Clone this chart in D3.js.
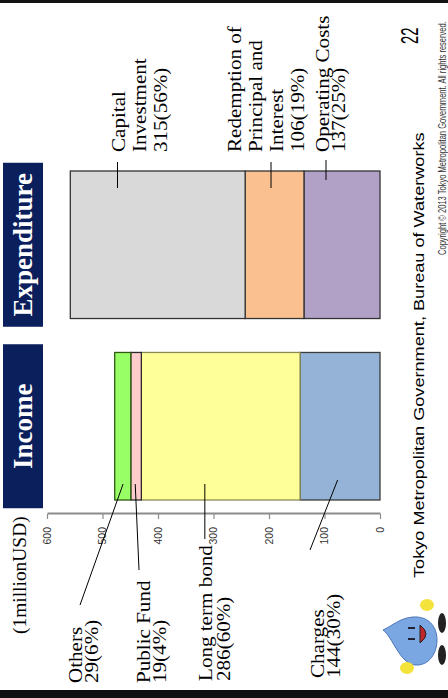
<!DOCTYPE html>
<html>
<head>
<meta charset="utf-8">
<script src="https://cdn.jsdelivr.net/npm/d3@7"></script>
<style>
  html, body { margin: 0; padding: 0; background: #fff; }
  svg { display: block; }
</style>
</head>
<body>
<svg id="chart" width="448" height="698"></svg>
<script>
// ---- data (million USD) ----
const groups = ["Income", "Expenditure"];

const incomeCats = ["Charges", "Long term bond", "Public Fund", "Others"];
const incomeVals = [144, 286, 19, 29];
const incomePct  = [30, 60, 4, 6];

const expCats = ["Operating Costs", "Redemption of Principal and Interest", "Capital Investment"];
const expVals = [137, 106, 315];
const expPct  = [25, 19, 56];

const tickVals = [0, 100, 200, 300, 400, 500, 600];
const unitLabel = "(1millionUSD)";
const footerText = "Tokyo Metropolitan Government, Bureau of Waterworks";
const pageNum = "22";
const copyrightText = "Copyright \u00A9 2013 Tokyo Metropolitan Government. All rights reserved.";

// ---- page setup: the slide is laid out landscape, then turned a quarter turn ----
const W = 698, H = 448;
const svg = d3.select("#chart");
const slide = svg.append("g").attr("transform", `translate(0,${W}) rotate(-90)`);

slide.append("rect").attr("width", W).attr("height", H).attr("fill", "#fff");
slide.append("rect").attr("x", 0).attr("y", 0).attr("width", 8).attr("height", H).attr("fill", "#111");
slide.append("rect").attr("x", W - 3).attr("y", 0).attr("width", 3).attr("height", H).attr("fill", "#111");

const serif = "'Liberation Serif','Times New Roman',serif";
const sans = "'Liberation Sans',Arial,sans-serif";

function txt(parent, x, y, s, o = {}) {
  return parent.append("text")
    .attr("transform", `translate(${x},${y}) scale(${o.sx || 1},${o.sy || 1})`)
    .attr("font-family", o.font || serif)
    .attr("font-size", o.size || 20)
    .attr("font-weight", o.weight || "normal")
    .attr("fill", o.fill || "#000")
    .attr("text-anchor", o.anchor || "start")
    .text(s);
}

// ---- scales ----
const y = d3.scaleLinear().domain([0, 600]).range([380, 47]);
const x = d3.scaleBand().domain(groups).range([198, 527]).paddingInner(0.187).paddingOuter(0);

// ---- value axis ----
const axis = slide.append("g")
  .attr("transform", "translate(184,0)")
  .call(d3.axisLeft(y).tickValues(tickVals).tickSize(5).tickSizeOuter(0).tickPadding(8));
axis.select(".domain").attr("stroke", "#8c8c8c").attr("stroke-width", 2);
axis.selectAll(".tick line").attr("stroke", "#8c8c8c").attr("stroke-width", 1.2);
axis.selectAll(".tick text")
  .attr("font-family", sans).attr("font-size", 10.5).attr("fill", "#333");

txt(slide, 64, 26, unitLabel, { size: 18, sx: 1.08 });

// ---- stacked bars ----
function stackOf(vals) {
  let acc = 0;
  return vals.map(v => { const s = { y0: acc, y1: acc + v }; acc += v; return s; });
}
const incomeStack = stackOf(incomeVals);
const expStack = stackOf(expVals);

const incomeFill = ["#95b3d7", "#ffff99", "#ffcccc", "#99ff66"];
const incomeStroke = ["#3c3c3c", "#8a8a55", "#2a2a2a", "#2f5a12"];
const expFill = ["#b2a1c7", "#fac090", "#d9d9d9"];

// bars are horizontal in the landscape frame: value runs along the band's cross direction
function drawBar(group, stack, fills, strokes) {
  slide.append("g").selectAll("rect")
    .data(stack)
    .join("rect")
    .attr("x", x(group))
    .attr("width", x.bandwidth())
    .attr("y", d => y(d.y1))
    .attr("height", d => y(d.y0) - y(d.y1))
    .attr("fill", (d, i) => fills[i])
    .attr("stroke", (d, i) => strokes[i])
    .attr("stroke-width", 1.3);
}
drawBar("Income", incomeStack, incomeFill, incomeStroke);
drawBar("Expenditure", expStack, expFill, ["#333", "#333", "#333"]);

// ---- group titles ----
groups.forEach(g => {
  const cx = x(g) + x.bandwidth() / 2;
  slide.append("rect").attr("x", cx - 82).attr("y", 3).attr("width", 164).attr("height", 40)
    .attr("fill", "#0b1f5c");
  txt(slide, cx, 32, g, { size: 27, weight: "bold", fill: "#fff", anchor: "middle" });
});

// ---- labels with leader lines ----
const leader = (x1, y1, x2, y2) => slide.append("line")
  .attr("x1", x1).attr("y1", y1).attr("x2", x2).attr("y2", y2)
  .attr("stroke", "#000").attr("stroke-width", 1);

const labelFont = { size: 18.5, sx: 1.14 };

// income labels (left of the bar)
const incomeLines = [["Charges"], ["Long term bond"], ["Public Fund"], ["Others"]];
const incomeLayout = [
  { tx: 20, by: 324, lh: 16, frac: 0.53, bx: 218, ex: 148, ey: 310 },
  { tx: 17, by: 212, lh: 18, frac: 0.60, bx: 214, ex: 159, ey: null },
  { tx: 15, by: 150, lh: 16, frac: 0.58, bx: 214, ex: 128, ey: 139 },
  { tx: 15, by: 82,  lh: 16, frac: 0.48, bx: 214, ex: 93,  ey: 80 }
];
incomeCats.forEach((c, i) => {
  const L = incomeLayout[i];
  const lines = incomeLines[i].concat([`${incomeVals[i]}(${incomePct[i]}%)`]);
  lines.forEach((s, k) => txt(slide, L.tx, L.by + k * L.lh, s, labelFont));
  const s = incomeStack[i];
  const by = y(s.y0 + (s.y1 - s.y0) * L.frac);
  leader(L.bx, by, L.ex, L.ey === null ? by : L.ey);
});

// expenditure labels (right of the bar)
const expLines = [["Operating Costs"], ["Redemption of", "Principal and", "Interest"], ["Capital", "Investment"]];
const expLayout = [
  { tx: 546, by: 329, lh: 16, frac: 0.71, bx0: 518, bx1: 538 },
  { tx: 546, by: 241, lh: 21, frac: 0.56, bx0: 510, bx1: 536 },
  { tx: 546, by: 125, lh: 21, frac: 0.73, bx0: 510, bx1: 536 }
];
expCats.forEach((c, i) => {
  const L = expLayout[i];
  const lines = expLines[i].concat([`${expVals[i]}(${expPct[i]}%)`]);
  lines.forEach((s, k) => txt(slide, L.tx, L.by + k * L.lh, s, labelFont));
  const s = expStack[i];
  const ly = y(s.y0 + (s.y1 - s.y0) * L.frac);
  leader(L.bx0, ly, L.bx1, ly);
});

// ---- footer ----
txt(slide, 120, 424, footerText, { font: sans, size: 15.5, sx: 1.17 });
txt(slide, 654, 418, pageNum, { font: sans, size: 24, sx: 0.62 });
txt(slide, 443, 446, copyrightText, { font: sans, size: 10.5, sx: 0.72, fill: "#333" });

// ---- mascot: little water drop ----
const m = slide.append("g");
m.append("ellipse").attr("cx", 75).attr("cy", 442).attr("rx", 10).attr("ry", 4).attr("fill", "#222");
m.append("ellipse").attr("cx", 43).attr("cy", 442).attr("rx", 10).attr("ry", 4).attr("fill", "#222");
m.append("path")
  .attr("d", "M68,383 C62,392 34,400 33,415 C32,430 46,437 58,437 C72,437 82,428 81,413 C80,400 72,392 68,383 Z")
  .attr("fill", "#7aa7e2").attr("stroke", "#4a74b8").attr("stroke-width", 1);
m.append("ellipse").attr("cx", 93).attr("cy", 427).attr("rx", 6).attr("ry", 7).attr("fill", "#f3e33a");
m.append("ellipse").attr("cx", 30).attr("cy", 407).attr("rx", 6).attr("ry", 7).attr("fill", "#f3e33a");
m.append("rect").attr("x", 69).attr("y", 408).attr("width", 2).attr("height", 7).attr("fill", "#223");
m.append("rect").attr("x", 58).attr("y", 408).attr("width", 2).attr("height", 7).attr("fill", "#223");
m.append("path").attr("d", "M55,420 Q64,432 73,420 Z").attr("fill", "#c0272d").attr("stroke", "#222").attr("stroke-width", 1);
</script>
</body>
</html>
